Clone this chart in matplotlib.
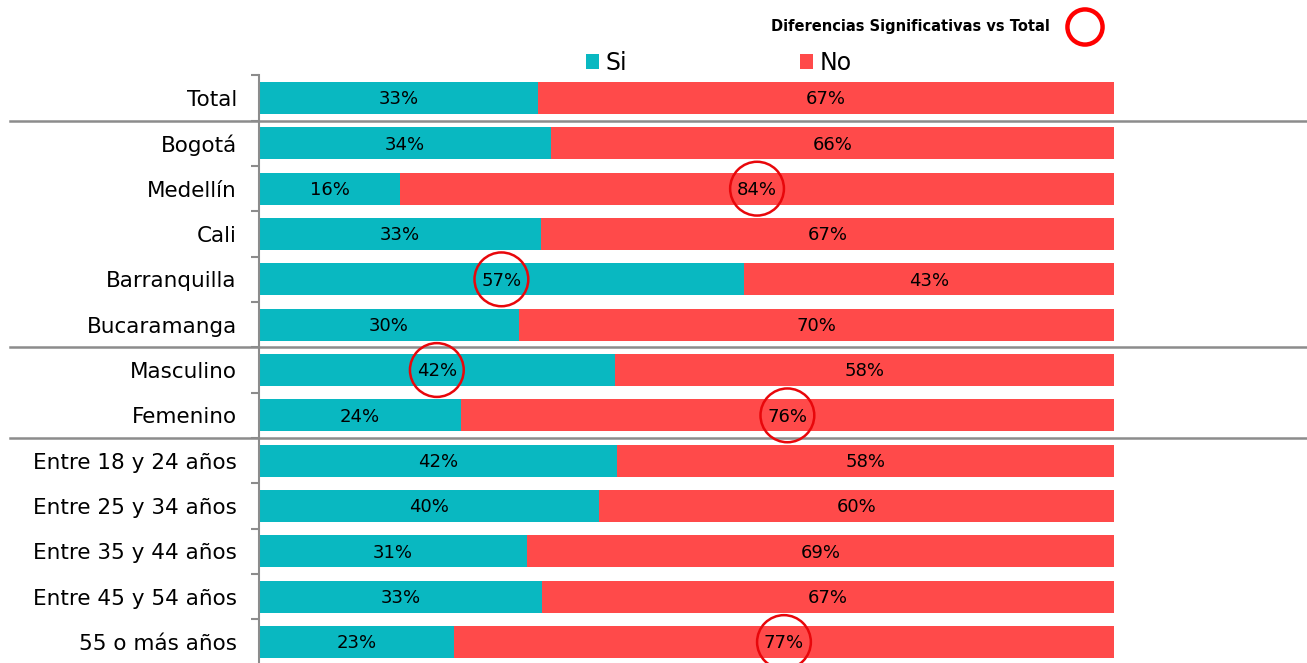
import matplotlib.pyplot as plt
import matplotlib.transforms as mtransforms
import numpy as np

categorias = ["Total", "Bogotá", "Medellín", "Cali", "Barranquilla", "Bucaramanga",
              "Masculino", "Femenino", "Entre 18 y 24 años", "Entre 25 y 34 años",
              "Entre 35 y 44 años", "Entre 45 y 54 años", "55 o más años"]
si = [32.6, 34.2, 16.5, 33.0, 56.7, 30.4, 41.6, 23.6, 41.9, 39.8, 31.3, 33.1, 22.8]
si_etiq = [33, 34, 16, 33, 57, 30, 42, 24, 42, 40, 31, 33, 23]
no_etiq = [67, 66, 84, 67, 43, 70, 58, 76, 58, 60, 69, 67, 77]
# diferencias significativas: (fila, serie)
signif = [(2, "No"), (4, "Si"), (6, "Si"), (7, "No"), (12, "No")]
separadores = [0.5, 5.5, 7.5]

c_si = "#09B8C1"
c_no = "#FF4A4A"

plt.rcParams["font.family"] = ["DejaVu Sans"]

fig = plt.figure(figsize=(13.07, 6.63), dpi=100)
ax = fig.add_axes([259 / 1307, -0.0026, 855 / 1307, 0.889])

y = np.arange(len(categorias))
si = np.array(si)
no = 100 - si
ax.barh(y, si, height=0.71, color=c_si, label="Si")
ax.barh(y, no, left=si, height=0.71, color=c_no, label="No")

for i in range(len(categorias)):
    ax.text(si[i] / 2, y[i] + 0.03, f"{si_etiq[i]}%", ha="center", va="center", fontsize=13)
    ax.text(si[i] + no[i] / 2, y[i] + 0.03, f"{no_etiq[i]}%", ha="center", va="center", fontsize=13)

for fila, serie in signif:
    xc = si[fila] / 2 if serie == "Si" else si[fila] + no[fila] / 2
    ax.scatter([xc], [fila], s=1500, facecolors="none", edgecolors="#E8070B",
               linewidths=1.8, zorder=5, clip_on=False)

ax.set_xlim(0, 100)
ax.set_ylim(len(categorias) - 0.5, -0.5)
ax.set_yticks(y)
ax.set_yticklabels(categorias, fontsize=15.5)
ax.set_yticks(np.arange(-0.5, len(categorias), 1), minor=True)
ax.tick_params(axis="y", which="major", length=0, pad=16)
ax.tick_params(axis="y", which="minor", length=6, color="#8C8C8C", width=1.5)
ax.set_xticks([])
for s in ["top", "right", "bottom"]:
    ax.spines[s].set_visible(False)
ax.spines["left"].set_color("#8C8C8C")
ax.spines["left"].set_linewidth(1.5)

trans = mtransforms.blended_transform_factory(fig.transFigure, ax.transData)
for yy in separadores:
    ax.plot([10 / 1307, 1.0], [yy, yy], color="#8C8C8C", lw=1.8,
            transform=trans, clip_on=False)

ax.legend(ncol=2, loc="center", bbox_to_anchor=(0.538, 1.021), frameon=False,
          fontsize=17, handlelength=0.55, handleheight=0.55, handletextpad=0.3,
          columnspacing=7.3, borderaxespad=0)

fig.text(1050 / 1307, 1 - 27 / 663, "Diferencias Significativas vs Total",
         ha="right", va="center", fontsize=10.5, fontweight="bold")
ax.scatter([1085 / 1307], [1 - 27 / 663], s=640, facecolors="none",
           edgecolors="#FF0000", linewidths=3.2, transform=fig.transFigure,
           clip_on=False)

fig.savefig("out.png", dpi=100)
